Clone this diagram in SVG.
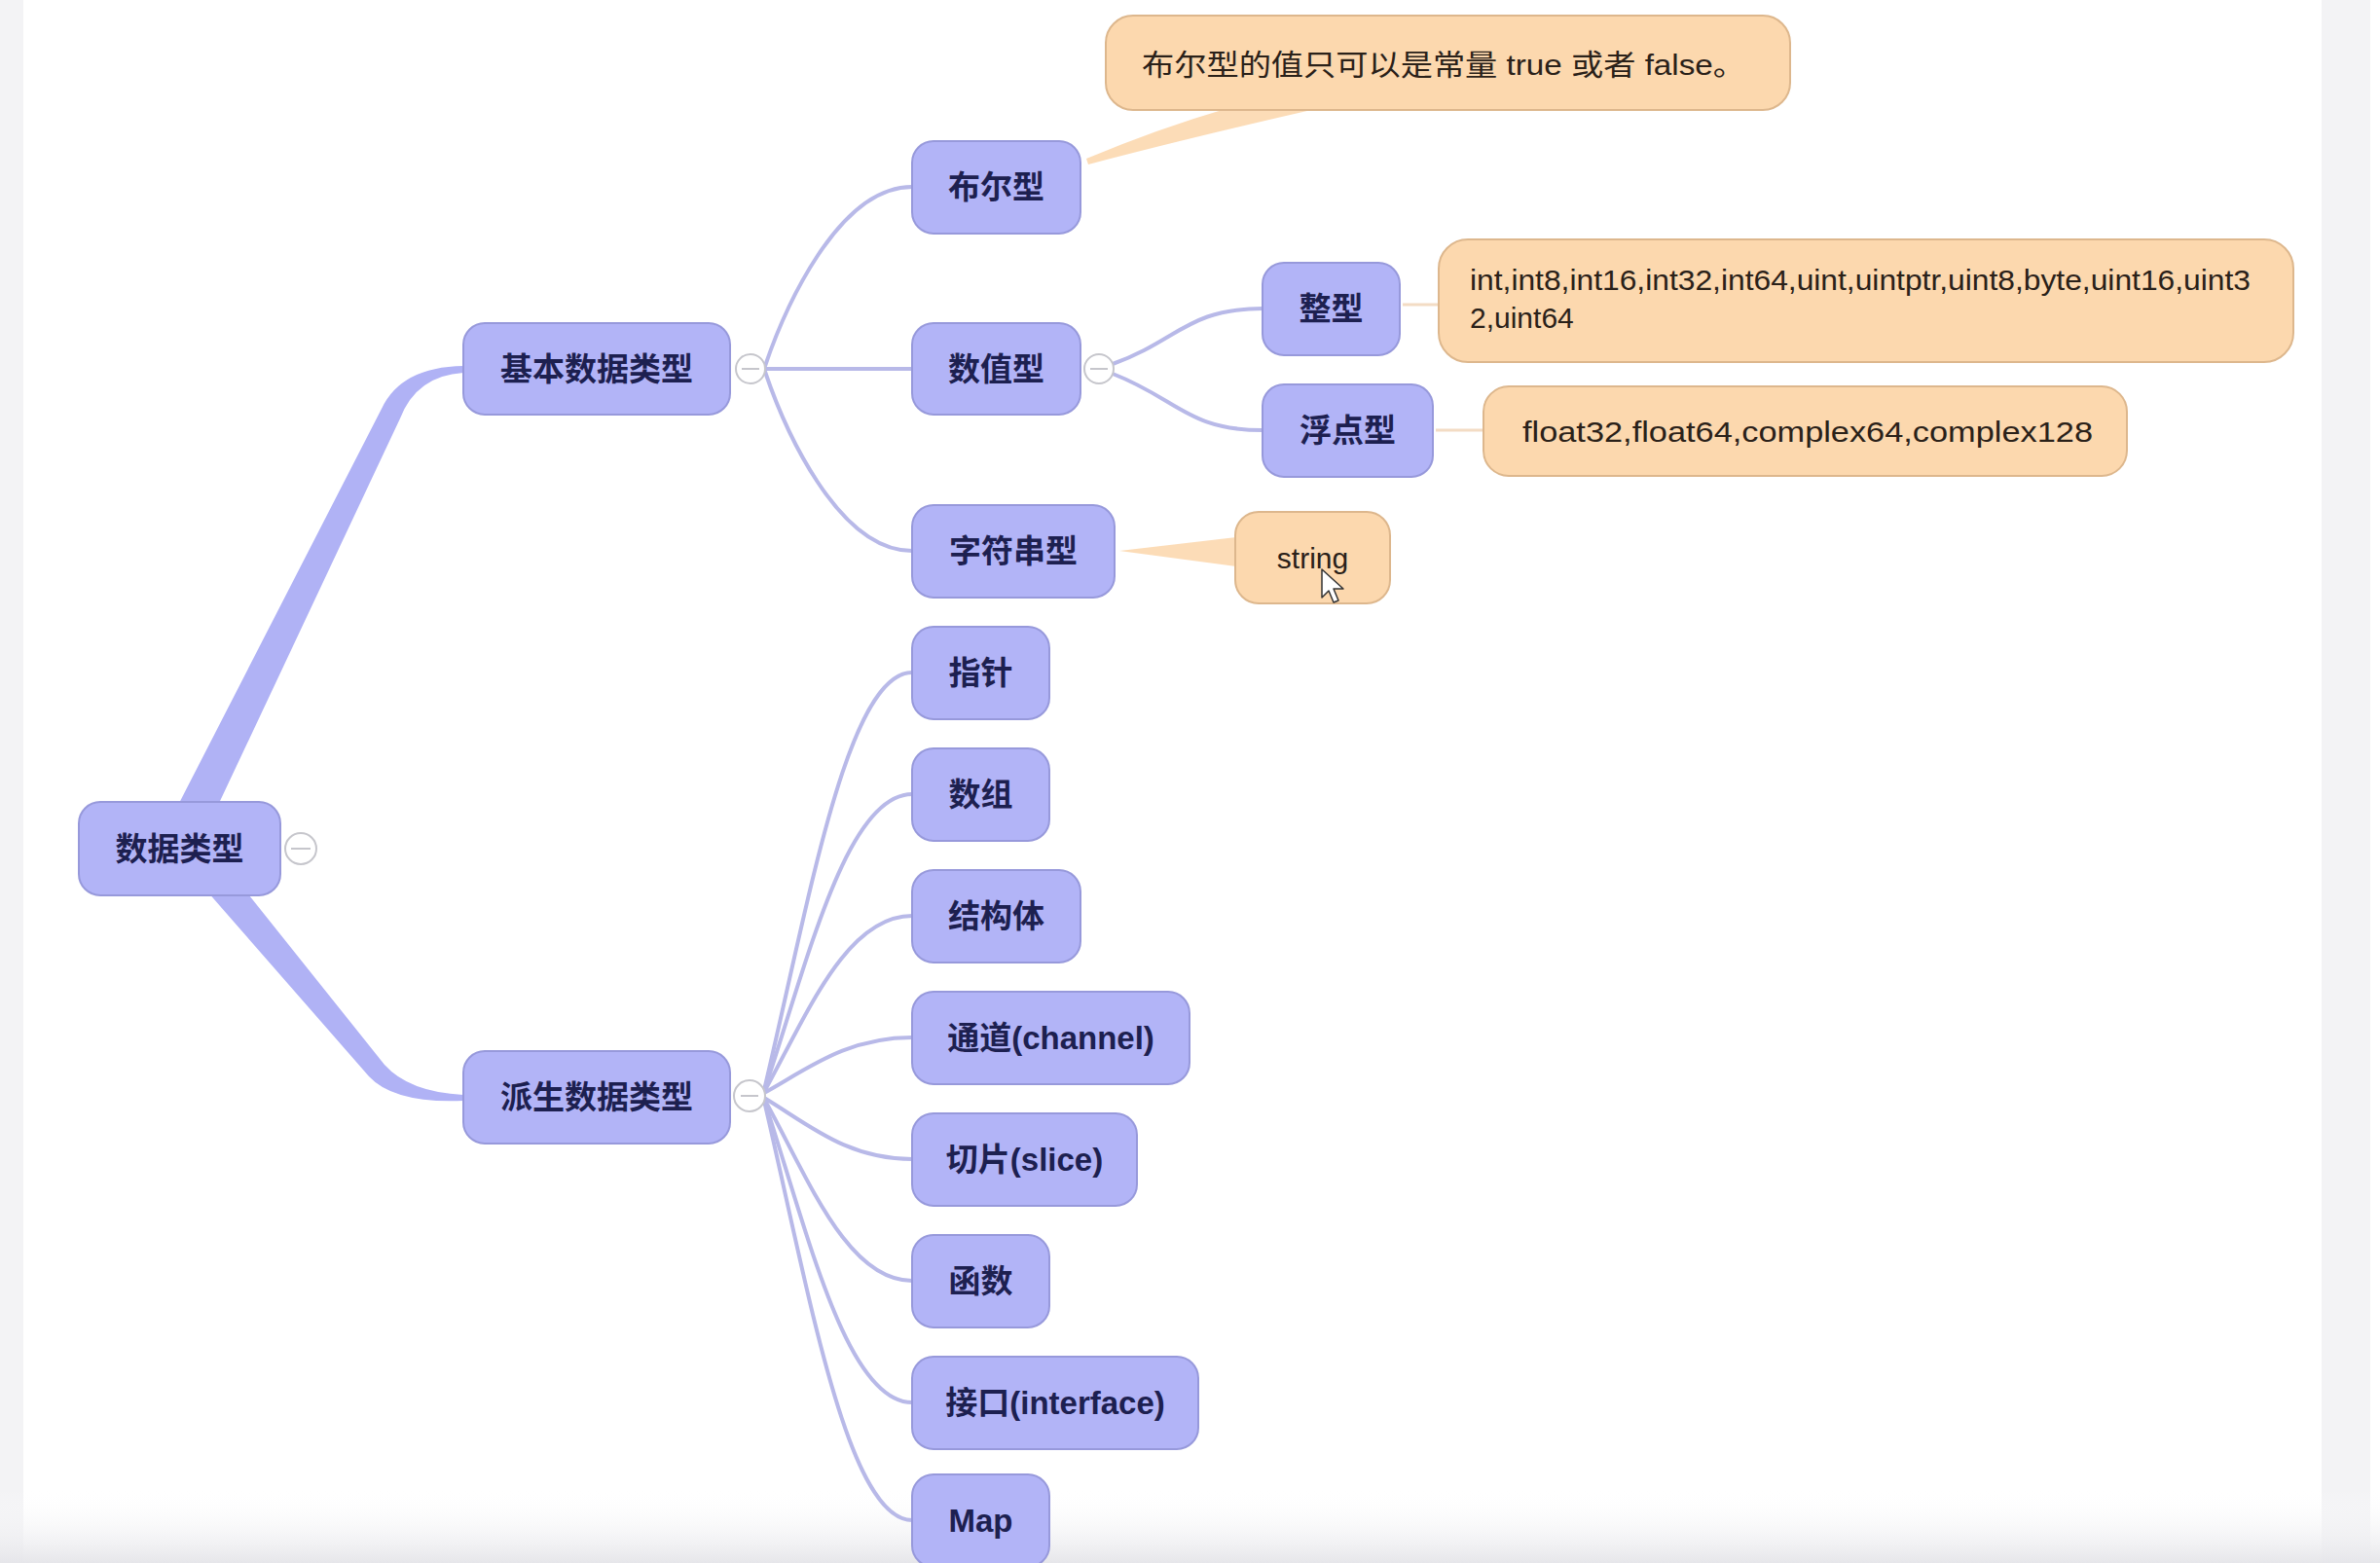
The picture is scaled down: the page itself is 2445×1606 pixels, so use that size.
<svg xmlns="http://www.w3.org/2000/svg" width="2445" height="1606" viewBox="0 0 2445 1606">
<defs>
<linearGradient id="bottomFade" x1="0" y1="0" x2="0" y2="1">
<stop offset="0" stop-color="#ffffff" stop-opacity="0"/>
<stop offset="1" stop-color="#e6e6ea" stop-opacity="1"/>
</linearGradient>
</defs>
<style>
.bg{fill:#ffffff}
.strip{fill:#f3f3f5}
.node rect{fill:#b2b4f7;stroke:#9799db;stroke-width:2}
.node text{font-family:"Liberation Sans","Noto Sans CJK SC",sans-serif;font-size:33px;font-weight:bold;fill:#1d2050;text-anchor:middle}
.note rect{fill:#fcd8ae;stroke:#ddb78d;stroke-width:2}
.note text{font-family:"Liberation Sans","Noto Sans CJK SC",sans-serif;font-size:30px;fill:#2a2119}
.conn{fill:none;stroke:#b8b9e8;stroke-width:4;stroke-linecap:round}
.trunk{fill:#b0b2f5}
.wedge{fill:#fbd6aa;opacity:0.85}
.oline{stroke:#f3dcc4;stroke-width:3;fill:none}
.toggle circle{fill:#ffffff;stroke:#c6c6cc;stroke-width:2}
.toggle line{stroke:#c6c6cc;stroke-width:2}
</style>
<rect class="bg" x="0" y="0" width="2445" height="1606"/>
<rect class="strip" x="0" y="0" width="24" height="1606"/>
<rect class="strip" x="2385" y="0" width="50" height="1606"/>
<rect x="0" y="1530" width="2445" height="76" fill="url(#bottomFade)"/>

<g id="connectors">
<path class="trunk" d="M 160 872 L 392 420 Q 412 377 476 376 L 476 383 Q 428 386 411 430 L 203 872 Z"/>
<path class="trunk" d="M 208 860 L 395 1094 Q 420 1122 476 1125 L 476 1131 Q 405 1134 379 1106 L 164 860 Z"/>
<path class="conn" d="M 786 376 C 805 320, 860 192, 937 192"/>
<path class="conn" d="M 786 379 L 937 379"/>
<path class="conn" d="M 786 382 C 805 438, 860 566, 937 566"/>
<path class="conn" d="M 1143 374 C 1210 350, 1220 317, 1297 317"/>
<path class="conn" d="M 1143 384 C 1210 410, 1220 442, 1297 442"/>
<path class="conn" d="M 785 1120 C 830 932, 870 691, 937 691"/>
<path class="conn" d="M 785 1121 C 830 986, 870 816, 937 816"/>
<path class="conn" d="M 785 1122 C 830 1040, 870 941, 937 941"/>
<path class="conn" d="M 785 1123 C 830 1098, 870 1066, 937 1066"/>
<path class="conn" d="M 785 1128 C 830 1155, 870 1191, 937 1191"/>
<path class="conn" d="M 785 1129 C 830 1210, 870 1316, 937 1316"/>
<path class="conn" d="M 785 1130 C 830 1268, 870 1441, 937 1441"/>
<path class="conn" d="M 785 1131 C 830 1322, 870 1562, 937 1562"/>
<path class="wedge" d="M 1116 163 Q 1190 132 1262 111 L 1356 111 Q 1220 142 1118 169 Z"/>
<path class="wedge" d="M 1150 566 L 1270 552 L 1270 582 Z"/>
<line class="oline" x1="1441" y1="313" x2="1479" y2="313"/>
<line class="oline" x1="1475" y1="442" x2="1526" y2="442"/>
</g>

<g id="node-root" class="node"><rect x="81" y="824" width="207" height="96" rx="22"/><text x="184.5" y="884">数据类型</text></g>
<g id="toggle-root" class="toggle"><circle cx="309" cy="872" r="16"/><line x1="299" y1="872" x2="319" y2="872"/></g>

<g id="node-basic" class="node"><rect x="476" y="332" width="274" height="94" rx="22"/><text x="613" y="391">基本数据类型</text></g>
<g id="toggle-basic" class="toggle"><circle cx="771" cy="379" r="15"/><line x1="762" y1="379" x2="780" y2="379"/></g>

<g id="node-derived" class="node"><rect x="476" y="1080" width="274" height="95" rx="22"/><text x="613" y="1139">派生数据类型</text></g>
<g id="toggle-derived" class="toggle"><circle cx="770" cy="1126" r="16"/><line x1="761" y1="1126" x2="779" y2="1126"/></g>

<g id="node-bool" class="node"><rect x="937" y="145" width="173" height="95" rx="22"/><text x="1023.5" y="204">布尔型</text></g>
<g id="node-numeric" class="node"><rect x="937" y="332" width="173" height="94" rx="22"/><text x="1023.5" y="391">数值型</text></g>
<g id="toggle-numeric" class="toggle"><circle cx="1129" cy="379" r="15"/><line x1="1120" y1="379" x2="1138" y2="379"/></g>
<g id="node-string-type" class="node"><rect x="937" y="519" width="208" height="95" rx="22"/><text x="1041" y="578">字符串型</text></g>
<g id="node-int" class="node"><rect x="1297" y="270" width="141" height="95" rx="22"/><text x="1367.5" y="329">整型</text></g>
<g id="node-float" class="node"><rect x="1297" y="395" width="175" height="95" rx="22"/><text x="1384.5" y="454">浮点型</text></g>

<g id="note-bool" class="note"><rect x="1136" y="16" width="703" height="97" rx="28"/><text x="1173" y="77" textLength="620" lengthAdjust="spacingAndGlyphs">布尔型的值只可以是常量 true 或者 false。</text></g>
<g id="note-int" class="note"><rect x="1478" y="246" width="878" height="126" rx="30"/><text x="1510" y="298" textLength="802" lengthAdjust="spacingAndGlyphs">int,int8,int16,int32,int64,uint,uintptr,uint8,byte,uint16,uint3</text><text x="1510" y="337">2,uint64</text></g>
<g id="note-float" class="note"><rect x="1524" y="397" width="661" height="92" rx="26"/><text x="1564" y="454" textLength="586" lengthAdjust="spacingAndGlyphs">float32,float64,complex64,complex128</text></g>
<g id="note-string" class="note"><rect x="1269" y="526" width="159" height="94" rx="24"/><text x="1348.5" y="584" text-anchor="middle">string</text></g>

<g id="node-pointer" class="node"><rect x="937" y="644" width="141" height="95" rx="22"/><text x="1007.5" y="703">指针</text></g>
<g id="node-array" class="node"><rect x="937" y="769" width="141" height="95" rx="22"/><text x="1007.5" y="828">数组</text></g>
<g id="node-struct" class="node"><rect x="937" y="894" width="173" height="95" rx="22"/><text x="1023.5" y="953">结构体</text></g>
<g id="node-channel" class="node"><rect x="937" y="1019" width="285" height="95" rx="22"/><text x="1079.5" y="1078">通道(channel)</text></g>
<g id="node-slice" class="node"><rect x="937" y="1144" width="231" height="95" rx="22"/><text x="1052.5" y="1203">切片(slice)</text></g>
<g id="node-func" class="node"><rect x="937" y="1269" width="141" height="95" rx="22"/><text x="1007.5" y="1328">函数</text></g>
<g id="node-interface" class="node"><rect x="937" y="1394" width="294" height="95" rx="22"/><text x="1084" y="1453">接口(interface)</text></g>
<g id="node-map" class="node"><rect x="937" y="1515" width="141" height="95" rx="22"/><text x="1007.5" y="1574">Map</text></g>

<path d="M 1358 585 L 1358 614 L 1365 607 L 1370 619 L 1375 617 L 1370 605 L 1380 605 Z" fill="#ffffff" stroke="#333333" stroke-width="1.5" stroke-linejoin="round"/>
</svg>
